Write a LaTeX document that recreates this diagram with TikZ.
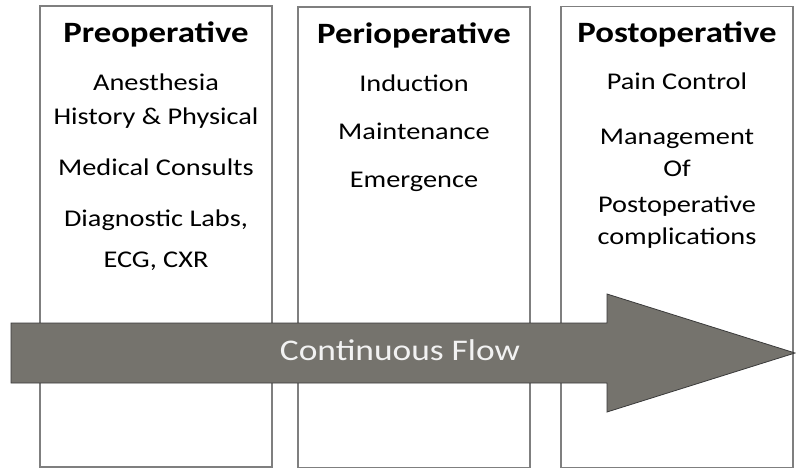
\documentclass[tikz,border=0pt]{standalone}
\usepackage{fontspec}
\setmainfont[FakeStretch=1.18]{Carlito}
\usetikzlibrary{positioning}
\definecolor{boxgray}{HTML}{7F7F7F}
\definecolor{flowgray}{HTML}{75736D}
\definecolor{flowedge}{HTML}{3A3A3A}
\definecolor{flowtext}{HTML}{F2F2F2}

\begin{document}
\begin{tikzpicture}[x=1pt, y=-1pt,
    phase/.style={draw=boxgray, line width=1.2pt, minimum width=232pt, minimum height=461pt, inner sep=0pt},
    title/.style={font=\fontsize{29.5}{31}\selectfont\bfseries, anchor=base},
    item/.style={font=\fontsize{24}{26}\selectfont, anchor=base}]
    \useasboundingbox (0,0) rectangle (796,468);

    % Boxes
    \node[phase] (pre) at (156,236.5) {};
    \node[phase] (peri) at (414,237.5) {};
    \node[phase] (post) at (677,237) {};

    %% Preoperative
    \node[title] (preT) at (156,43) {Preoperative};
    \node[item] (anes) at (156,91) {Anesthesia};
    \node[item] (hist) at (156,125) {History \& Physical};
    \node[item] (cons) at (156,176) {Medical Consults};
    \node[item] (labs) at (156,226) {Diagnostic Labs,};
    \node[item] (ecg) at (156,268) {ECG, CXR};

    %% Perioperative
    \node[title] (periT) at (414,44) {Perioperative};
    \node[item] (induct) at (414,92) {Induction};
    \node[item] (maint) at (414,140) {Maintenance};
    \node[item] (emerg) at (414,188) {Emergence};

    %% Postoperative
    \node[title] (postT) at (677,43) {Postoperative};
    \node[item] (pain) at (677,90) {Pain Control};
    \node[item] (manage) at (677,145) {Management};
    \node[item] (of) at (677,177) {Of};
    \node[item] (postop) at (677,212) {Postoperative};
    \node[item] (compl) at (677,244) {complications};

    % Flow arrow
    \filldraw[fill=flowgray, draw=flowedge, line width=0.8pt]
        (11,323) -- (607,323) -- (607,294) -- (795,353) -- (607,412) -- (607,383) -- (11,383) -- cycle;
    \node[font=\fontsize{30}{32}\selectfont, text=flowtext, anchor=base] (flow) at (400,360) {Continuous Flow};
\end{tikzpicture}
\end{document}
